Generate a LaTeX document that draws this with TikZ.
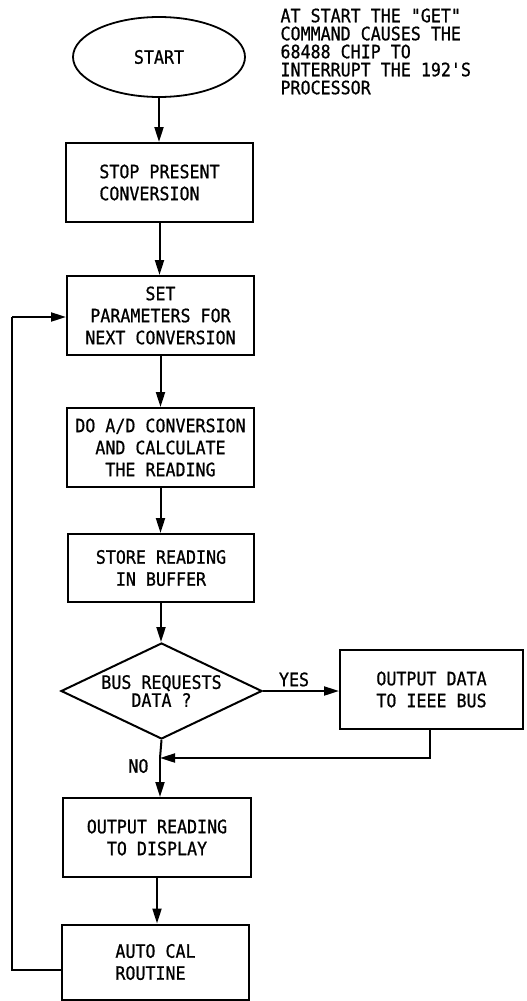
\documentclass[tikz,border=0pt]{standalone}
\usepackage{fontspec}
\newfontfamily\fc[FakeStretch=0.9,FakeBold=0.8]{DejaVu Sans Mono}
\usetikzlibrary{shapes.geometric,arrows.meta}
\begin{document}
\begin{tikzpicture}[x=1pt,y=-1pt,
  txt/.style={font={\fc\fontsize{18.5}{22}\selectfont}},
  stepbox/.style={draw, line width=2pt, rectangle, inner sep=0pt, txt, align=center},
  flow/.style={line width=2pt, -{Triangle[length=15pt,width=9pt]}},
  loopline/.style={line width=1.5pt},
]
\useasboundingbox (0,0) rectangle (527,1001);

\node[draw, line width=1.8pt, ellipse, minimum width=172pt, minimum height=80pt, inner sep=0pt, txt] (start) at (159,57) {START};
\node[txt, anchor=north west, align=left, font={\fc\fontsize{18.5}{18}\selectfont}] (note) at (277,5)
  {AT START THE "GET"\\COMMAND CAUSES THE\\68488 CHIP TO\\INTERRUPT THE 192'S\\PROCESSOR};

\node[stepbox, minimum width=187pt, minimum height=79pt, align=left] (b1) at (159.5,182.5) {STOP PRESENT\\CONVERSION};
\node[stepbox, minimum width=187pt, minimum height=79pt] (b2) at (160.5,315.5) {SET\\PARAMETERS FOR\\NEXT CONVERSION};
\node[stepbox, minimum width=187pt, minimum height=79pt] (b3) at (160.5,447.5) {DO A/D CONVERSION\\AND CALCULATE\\THE READING};
\node[stepbox, minimum width=186pt, minimum height=68pt] (b4) at (161,568) {STORE READING\\IN BUFFER};
\node[draw, line width=2pt, diamond, aspect=2.09, minimum width=201pt, minimum height=96pt, inner sep=0pt, align=center, font={\fc\fontsize{18.5}{18}\selectfont}] (dia) at (161.5,691) {BUS REQUESTS\\DATA ?};
\node[stepbox, minimum width=183pt, minimum height=79pt] (b5) at (431.5,689.5) {OUTPUT DATA\\TO IEEE BUS};
\node[stepbox, minimum width=188pt, minimum height=79pt] (b6) at (157,837.5) {OUTPUT READING\\TO DISPLAY};
\node[stepbox, minimum width=187pt, minimum height=75pt, align=left] (b7) at (155.5,962) {AUTO CAL\\ROUTINE};

\node[txt, anchor=south] (yes) at (294,690) {YES};
\node[txt, anchor=east] (no) at (152,766) {NO};

\coordinate (j) at (160,758);
\coordinate (r5) at (430,758);
\coordinate (lp) at (12,970);
\coordinate (lt) at (12,317);

\draw[flow] (start.south) -- (start.south |- b1.north);
\draw[flow] (b1.south) -- (b1.south |- b2.north);
\draw[flow] (b2.south) -- (b2.south |- b3.north);
\draw[flow] (b3.south) -- (b3.south |- b4.north);
\draw[flow] (b4.south) -- (b4.south |- dia.north);
\draw[flow] (dia.east) -- (dia.east -| b5.west);
\draw[line width=2pt] (dia.south) -- (j);
\draw[flow] (j) -- (j |- b6.north);
\draw[flow] (r5 |- b5.south) -- (r5) -- (j);
\draw[flow] (b6.south) -- (b6.south |- b7.north);
\draw[loopline] (lp -| b7.west) -- (lp) -- (lt);
\draw[flow] (lt) -- (lt -| b2.west);
\end{tikzpicture}
\end{document}
